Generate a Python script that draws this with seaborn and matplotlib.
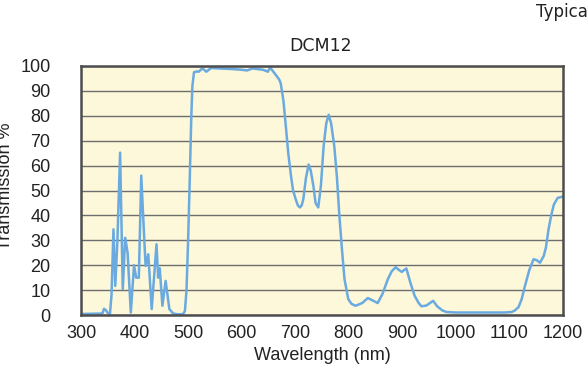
import numpy as np
import pandas as pd
import matplotlib
matplotlib.use('Agg')
import matplotlib.pyplot as plt
import seaborn as sns

# Transmission curve
wavelength = [300, 320, 340, 343, 347, 350, 354, 357, 360.6, 364, 368, 373, 378, 382.5,
              387, 393, 399, 403, 408, 412.5, 416, 420.6, 425.6, 432, 441, 444, 447,
              452, 458, 465, 472, 480, 490, 494, 497, 500, 503, 506, 508, 511, 516,
              520, 526, 530, 534, 543, 560, 580, 600, 610, 620, 640, 649, 653, 661,
              670, 673, 678, 682.5, 687, 692, 696, 701, 705, 708.7, 712, 715, 720, 725,
              729, 734, 738, 743, 748, 753, 758, 762.5, 767, 773, 778, 782, 787, 792,
              799, 805, 812.5, 825, 835.6, 845, 854, 863, 873, 880, 887.5, 893, 899,
              903, 907.5, 915, 923, 930, 935.6, 945, 957.5, 965, 975, 982.5, 1000,
              1050, 1090, 1104, 1110, 1117, 1123, 1129, 1137, 1145, 1151, 1157, 1164,
              1168, 1173, 1178, 1183, 1190, 1200]
transmission = [0.4, 0.5, 0.6, 2.5, 1.8, 0.8, 0.4, 8, 34.4, 11.7, 30, 65.2, 10.4, 31,
                25, 1, 20, 15, 15, 56, 40, 19.7, 24.4, 2.4, 28.4, 15, 18.8,
                3.7, 13.7, 2.4, 0.6, 0.3, 0.3, 1.5, 10, 30, 54, 80, 92, 97.5, 97.8,
                97.7, 99, 98.5, 97.7, 99.2, 99, 98.8, 98.5, 98.2, 99, 98.5, 97.7, 99.4, 97.2,
                94.6, 93, 86, 75.7, 65, 56, 50, 46.4, 44, 43.2, 44, 46.4, 55, 60.4,
                58, 51.7, 45, 43.2, 52, 67.7, 77, 80.4, 77, 67.7, 55, 41.2, 27, 14.4,
                6.4, 4.5, 3.7, 4.8, 6.8, 5.8, 4.8, 8.5, 14.4, 17.5, 19.2, 18.2, 17.3,
                18, 18.7, 13, 7.7, 5, 3.5, 3.8, 5.7, 3.5, 1.8, 1.2, 1.0,
                1.0, 1.0, 1.2, 1.8, 3.2, 6.5, 11.7, 18, 22.4, 22, 21, 23.7,
                27, 34.4, 40, 44.4, 47, 47.6]

df = pd.DataFrame({'Wavelength': wavelength, 'Transmission': transmission})

sns.set_style('white')
plt.rcParams['font.family'] = ['Liberation Sans', 'DejaVu Sans']

fig = plt.figure(figsize=(5.88, 3.73), dpi=100)
ax = fig.add_axes([81 / 588, 58 / 373, 482 / 588, 249 / 373])
ax.set_facecolor('#fcf8d9')

sns.lineplot(data=df, x='Wavelength', y='Transmission', ax=ax, sort=False,
             color='#6aaae0', linewidth=1.8, zorder=3)

ax.set_xlim(300, 1200)
ax.set_ylim(0, 100)
ax.set_xticks(np.arange(300, 1201, 100))
ax.set_yticks(np.arange(0, 101, 10))
ax.yaxis.grid(True, color='#6e6e6e', linewidth=1.0, zorder=1)
ax.xaxis.grid(False)
ax.tick_params(axis='both', length=0, labelsize=13, colors='#222222')
ax.tick_params(axis='y', pad=22)
ax.tick_params(axis='x', pad=7)
for s in ax.spines.values():
    s.set_color('#4d4d4d')
    s.set_linewidth(1.8)
    s.set_zorder(4)

ax.set_xlabel('Wavelength (nm)', fontsize=13, color='#222222', labelpad=4)
ax.set_ylabel('')
fig.text(0.009, 0.50, 'Transmission %', rotation=90, ha='center', va='center',
         fontsize=13, color='#222222')

narrow = ['Liberation Sans Narrow', 'DejaVu Sans']
fig.text(0.545, 0.878, 'DCM12', ha='center', va='center', fontsize=12.5,
         color='#222222', family=narrow)
fig.text(0.912, 0.968, 'Typica', ha='left', va='center', fontsize=12,
         color='#222222', family=narrow)

fig.savefig('out.png', dpi=100)
